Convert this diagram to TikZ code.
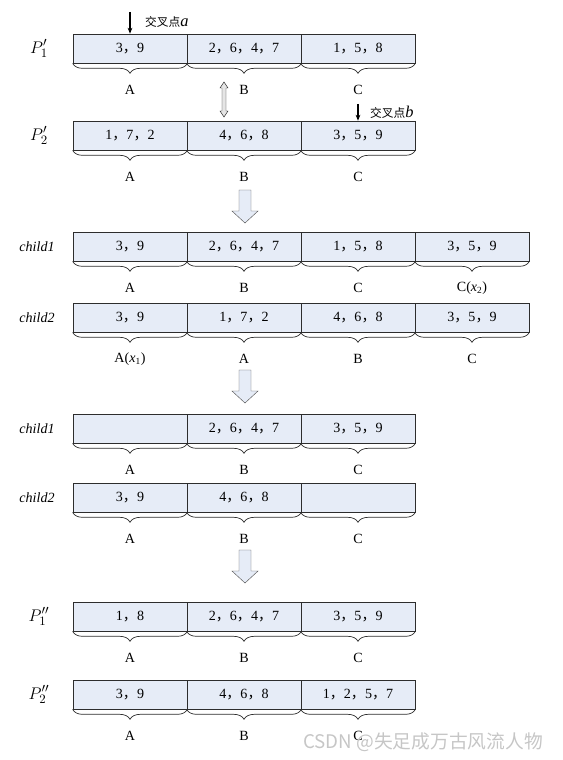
\documentclass[tikz,border=0pt]{standalone}
\usepackage{fontspec}
\setmainfont{Liberation Serif}
\newfontfamily\cjk{Noto Sans CJK SC}
\definecolor{cellblue}{RGB}{230,236,247}
\definecolor{linegray}{RGB}{45,45,45}
\usetikzlibrary{
  arrows.meta,
  positioning,
  decorations.pathreplacing
}
\newcommand{\dou}{{\cjk ，}}

\begin{document}
\begin{tikzpicture}[x=0.03cm, y=-0.03cm, >=Stealth,
  cell/.style={draw=linegray, fill=cellblue, line width=0.6pt,
    minimum width=3.42cm, minimum height=0.87cm, inner sep=0pt,
    font=\fontsize{12}{14}\selectfont},
  part/.style={draw=linegray, line width=0.6pt, decorate,
    decoration={brace, mirror, amplitude=8.5pt}},
  seg/.style={font=\fontsize{12}{14}\selectfont},
  rowname/.style={font=\fontsize{12}{14}\selectfont\itshape},
  parent/.style={font=\fontsize{15}{17}\selectfont},
  cut/.style={-{Stealth[length=5pt,width=4pt]}, line width=0.9pt, black},
  cutname/.style={anchor=west, font=\cjk\fontsize{10}{12}\selectfont},
  flow/.style={draw=gray!70!black, fill=cellblue},
  bigdown/.pic={\path[flow] (-6,0) -- (-6,21) -- (-13,21) -- (0,33)
    -- (13,21) -- (6,21) -- (6,0) -- cycle;}
]
  \useasboundingbox (0,0) rectangle (563,760);

  %% ===== PARENTS =====
  \node[parent] (pa) at (39,48.5) {$P_1^{\prime}$};
  \foreach \i/\txt/\lab in {1/{3\dou 9}/A, 2/{2\dou 6\dou 4\dou 7}/B,
                            3/{1\dou 5\dou 8}/C}{
    \node[cell] (pa\i) at ({16+114*\i},48.5) {\txt};
    \draw[part] (pa\i.south west) -- (pa\i.south east);
    \node[seg] (lpa\i) at ({16+114*\i},90) {\lab};
  }

  \node[parent] (pb) at (39,135.5) {$P_2^{\prime}$};
  \foreach \i/\txt/\lab in {1/{1\dou 7\dou 2}/A, 2/{4\dou 6\dou 8}/B,
                            3/{3\dou 5\dou 9}/C}{
    \node[cell] (pb\i) at ({16+114*\i},135.5) {\txt};
    \draw[part] (pb\i.south west) -- (pb\i.south east);
    \node[seg] (lpb\i) at ({16+114*\i},177) {\lab};
  }

  % Crossover points
  \coordinate (ta) at (130,12);
  \draw[cut] (ta) -- (pa1.north);
  \node[cutname] (tna) at (141,22)
    {交叉点\rmfamily\fontsize{14}{14}\selectfont\itshape a};
  \coordinate (tb) at (358,104);
  \draw[cut] (tb) -- (pb3.north);
  \node[cutname] (tnb) at (366,112)
    {交叉点\rmfamily\fontsize{14}{14}\selectfont\itshape b};

  % Swap
  \path[draw=linegray, fill=gray!20] (222,88) -- (220,88) -- (224,82)
    -- (228,88) -- (226,88) -- (226,111) -- (228,111) -- (224,117)
    -- (220,111) -- (222,111) -- cycle;

  \pic at (245,190) {bigdown};

  %% ===== CHILDREN =====
  \node[rowname] (ka) at (37,246.5) {child1};
  \foreach \i/\txt/\lab in {1/{3\dou 9}/A, 2/{2\dou 6\dou 4\dou 7}/B,
                            3/{1\dou 5\dou 8}/C,
                            4/{3\dou 5\dou 9}/{C(\textit{x}\textsubscript{2})}}{
    \node[cell] (ka\i) at ({16+114*\i},246.5) {\txt};
    \draw[part] (ka\i.south west) -- (ka\i.south east);
    \node[seg] (lka\i) at ({16+114*\i},288) {\lab};
  }

  \node[rowname] (kb) at (37,317.5) {child2};
  \foreach \i/\txt/\lab in {1/{3\dou 9}/{A(\textit{x}\textsubscript{1})},
                            2/{1\dou 7\dou 2}/A, 3/{4\dou 6\dou 8}/B,
                            4/{3\dou 5\dou 9}/C}{
    \node[cell] (kb\i) at ({16+114*\i},317.5) {\txt};
    \draw[part] (kb\i.south west) -- (kb\i.south east);
    \node[seg] (lkb\i) at ({16+114*\i},359) {\lab};
  }

  \pic at (245,370) {bigdown};

  %% ===== AFTER REMOVAL =====
  \node[rowname] (ma) at (37,428.5) {child1};
  \foreach \i/\txt/\lab in {1/{}/A, 2/{2\dou 6\dou 4\dou 7}/B,
                            3/{3\dou 5\dou 9}/C}{
    \node[cell] (ma\i) at ({16+114*\i},428.5) {\txt};
    \draw[part] (ma\i.south west) -- (ma\i.south east);
    \node[seg] (lma\i) at ({16+114*\i},470) {\lab};
  }

  \node[rowname] (mb) at (37,497.5) {child2};
  \foreach \i/\txt/\lab in {1/{3\dou 9}/A, 2/{4\dou 6\dou 8}/B, 3/{}/C}{
    \node[cell] (mb\i) at ({16+114*\i},497.5) {\txt};
    \draw[part] (mb\i.south west) -- (mb\i.south east);
    \node[seg] (lmb\i) at ({16+114*\i},539) {\lab};
  }

  \pic at (245,550) {bigdown};

  %% ===== OFFSPRING =====
  \node[parent] (qa) at (39,616.5) {$P_1^{\prime\prime}$};
  \foreach \i/\txt/\lab in {1/{1\dou 8}/A, 2/{2\dou 6\dou 4\dou 7}/B,
                            3/{3\dou 5\dou 9}/C}{
    \node[cell] (qa\i) at ({16+114*\i},616.5) {\txt};
    \draw[part] (qa\i.south west) -- (qa\i.south east);
    \node[seg] (lqa\i) at ({16+114*\i},658) {\lab};
  }

  \node[parent] (qb) at (39,694.5) {$P_2^{\prime\prime}$};
  \foreach \i/\txt/\lab in {1/{3\dou 9}/A, 2/{4\dou 6\dou 8}/B,
                            3/{1\dou 2\dou 5\dou 7}/C}{
    \node[cell] (qb\i) at ({16+114*\i},694.5) {\txt};
    \draw[part] (qb\i.south west) -- (qb\i.south east);
    \node[seg] (lqb\i) at ({16+114*\i},736) {\lab};
  }

  % Watermark
  \node[font=\cjk\fontsize{16}{18}\selectfont, text=gray!45] (mark)
    at (423,742) {CSDN @失足成万古风流人物};

\end{tikzpicture}
\end{document}
